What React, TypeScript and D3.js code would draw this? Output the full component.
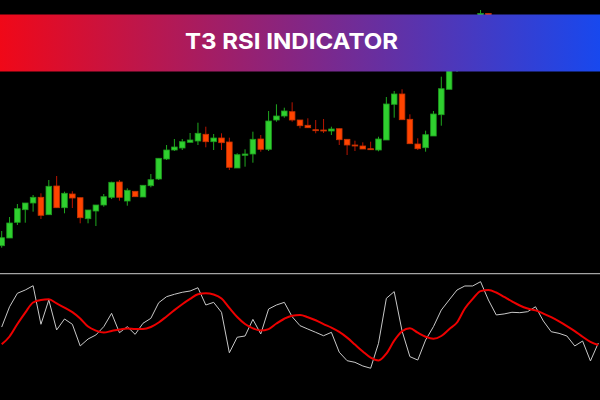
import React from "react";
import * as d3 from "d3";

const TITLE = "T3 RSI INDICATOR";

const OPEN = [54.3, 62, 77.7, 90.3, 97, 102.7, 85.3, 114, 92.3, 106, 102.3, 81.3, 89, 95, 102.7, 118, 99, 108.7, 103, 114.3, 121, 141, 150, 152, 157.7, 159, 165.7, 158.3, 162, 158, 132, 144.7, 146, 161, 150.7, 180, 184, 188.3, 180, 174.7, 170.3, 170, 169, 171.3, 160.7, 155, 154, 151.3, 150, 160, 195.7, 206, 180.7, 156, 152.3, 164, 185.3, 210.7, 250, 268, 278, 280, 286.5, 270, 256, 259, 262, 260, 263, 270, 252, 242, 240, 236, 232, 237, 234];
const HIGH = [69, 83, 96, 97, 105, 106.7, 120, 124, 108.3, 108.7, 102.3, 90, 95, 106, 118.3, 120, 111.7, 108.7, 114.7, 126, 141.7, 155, 161, 161, 167, 177.3, 173.3, 166, 166.7, 162.3, 146.7, 150.7, 168.3, 165, 189, 195.7, 192.3, 197.7, 180, 181.7, 180, 181, 173.3, 171.3, 160.7, 159.3, 157.7, 158.3, 163.3, 203, 209, 210.7, 185.7, 161.7, 169.3, 189, 223.3, 260, 275, 282, 285, 290, 286.5, 272, 265, 266, 265, 268, 274, 272, 255, 246, 244, 240, 240, 242, 245];
const LOW = [52.3, 62, 75, 77.3, 88.3, 81, 85.3, 92.3, 86.7, 92, 76.7, 76.7, 74, 93.3, 101, 99.3, 94.3, 103.3, 103, 112.7, 120, 140, 149, 150, 157.7, 155, 152.7, 150, 150, 130, 132, 133.3, 137.3, 148.3, 149, 178.3, 182.3, 178.3, 171.7, 172, 166.7, 167, 165, 155, 145, 149, 151, 150, 148.7, 160, 182.3, 180.3, 156.3, 150, 148.3, 164, 174.3, 210.7, 228, 260, 270, 275, 265, 250, 250, 254, 254, 256, 260, 248, 238, 236, 233, 230, 230, 230, 230];
const CLOSE = [62.3, 77, 91.3, 97, 102.7, 84.7, 113.7, 92.3, 106.7, 102, 82.3, 90, 95, 103.3, 117.7, 102.7, 109.7, 103.3, 114.7, 120.3, 141.7, 150, 153, 158.3, 160, 166.7, 158.3, 162, 157.3, 132.7, 145.3, 146, 160.7, 150.7, 179, 184, 189, 180, 174.3, 172.3, 169.7, 169, 171, 160.3, 155, 154, 151, 150.3, 161, 196, 206, 180.3, 156.3, 151.3, 165.3, 186, 211.3, 255, 270, 278, 282, 286.5, 270, 255, 260, 262, 258, 264, 270, 252, 242, 240, 236, 231, 236, 231, 242];

const RSI = [57.9, 74.0, 84.7, 87.3, 90.7, 60.1, 79.4, 55.6, 64.3, 60.1, 42.9, 48.4, 51.6, 58.2, 68.8, 53.4, 58.2, 52.1, 60.9, 64.8, 77.2, 82.0, 83.9, 85.5, 86.5, 89.1, 75.4, 77.5, 69.6, 37.5, 49.8, 50.8, 64.0, 52.4, 72.2, 75.4, 77.5, 66.1, 59.0, 56.3, 53.7, 51.0, 53.7, 37.9, 31.2, 29.9, 27.0, 25.2, 45.0, 80.7, 86.0, 54.8, 34.4, 31.7, 47.6, 58.2, 71.4, 79.4, 87.3, 90.5, 90.5, 93.9, 79.4, 67.5, 68.3, 69.6, 69.3, 70.1, 74.0, 62.7, 54.2, 52.9, 50.8, 42.9, 46.8, 31.0, 45.2];
const T3 = [44.2, 50.4, 60.3, 69.4, 77.4, 79.4, 79.9, 76.6, 73.4, 69.7, 64.7, 58.3, 55.1, 53.5, 54.8, 56.0, 56.8, 56.4, 56.3, 57.9, 61.5, 66.3, 71.3, 76.0, 80.2, 83.9, 84.7, 83.7, 80.6, 73.1, 65.9, 60.3, 56.9, 55.1, 56.3, 60.7, 64.5, 66.9, 67.4, 65.7, 63.3, 60.2, 57.4, 54.0, 49.5, 44.0, 38.5, 33.6, 31.4, 36.8, 47.1, 54.6, 56.9, 53.4, 50.2, 48.6, 50.8, 56.2, 61.5, 72.6, 80.2, 86.4, 87.3, 85.3, 81.8, 78.3, 75.0, 72.6, 71.1, 68.6, 65.7, 62.4, 58.7, 54.7, 50.2, 46.1, 43.7];

const W = 600;
const H = 400;

export default function App() {
  const n = CLOSE.length;
  const x = d3.scaleLinear().domain([0, n - 1]).range([1.7, 598.3]);
  const yP = d3.scaleLinear().domain([0, 300]).range([300, 0]);
  const yR = d3.scaleLinear().domain([0, 100]).range([400, 274]);
  const bw = 5.6;

  const rsiLine = d3
    .line<number>()
    .x((_, i) => x(i))
    .y((d) => yR(d));
  const t3Line = d3
    .line<number>()
    .x((_, i) => x(i))
    .y((d) => yR(d))
    .curve(d3.curveMonotoneX);

  const idx = d3.range(n);

  return (
    <svg
      width={W}
      height={H}
      style={{ position: "absolute", left: 0, top: 0, display: "block" }}
    >
      <defs>
        <linearGradient id="bannerGrad" x1="0" y1="0" x2="1" y2="0">
          <stop offset="0%" stopColor="#f00818" />
          <stop offset="50%" stopColor="#842684" />
          <stop offset="100%" stopColor="#1848ee" />
        </linearGradient>
        <clipPath id="priceClip">
          <rect x={0} y={0} width={W} height={271} />
        </clipPath>
        <clipPath id="rsiClip">
          <rect x={0} y={275} width={W} height={125} />
        </clipPath>
      </defs>
      <rect x={0} y={0} width={W} height={H} fill="#000" />

      <g clipPath="url(#priceClip)">
        {idx.map((i) => {
          const up = CLOSE[i] >= OPEN[i];
          const cx = x(i);
          const top = yP(Math.max(OPEN[i], CLOSE[i]));
          const bot = yP(Math.min(OPEN[i], CLOSE[i]));
          return (
            <g key={i}>
              <line
                x1={cx}
                x2={cx}
                y1={yP(HIGH[i])}
                y2={yP(LOW[i])}
                stroke={up ? "#1fa81f" : "#b81400"}
                strokeWidth={1}
              />
              <rect
                x={cx - bw / 2}
                y={top}
                width={bw}
                height={Math.max(bot - top, 1)}
                fill={up ? "#2fd02f" : "#ff4400"}
                stroke={up ? "#1e9a1e" : "#c83200"}
                strokeWidth={0.8}
              />
            </g>
          );
        })}
      </g>

      <line x1={0} x2={W} y1={273.6} y2={273.6} stroke="#a4a4a4" strokeWidth={1.4} />

      <g clipPath="url(#rsiClip)">
        <path d={rsiLine(RSI) || ""} fill="none" stroke="#c8c8c8" strokeWidth={1} />
        <path d={t3Line(T3) || ""} fill="none" stroke="#ee0000" strokeWidth={2} />
      </g>

      <rect x={0} y={14.5} width={W} height={57} fill="url(#bannerGrad)" />
      <text
        x={185}
        y={48.5}
        fill="#fff"
        fontFamily="Inter, 'Open Sans', sans-serif"
        fontWeight={700}
        fontSize={22}
        textLength={213}
        lengthAdjust="spacingAndGlyphs"
      >
        {TITLE}
      </text>
    </svg>
  );
}
